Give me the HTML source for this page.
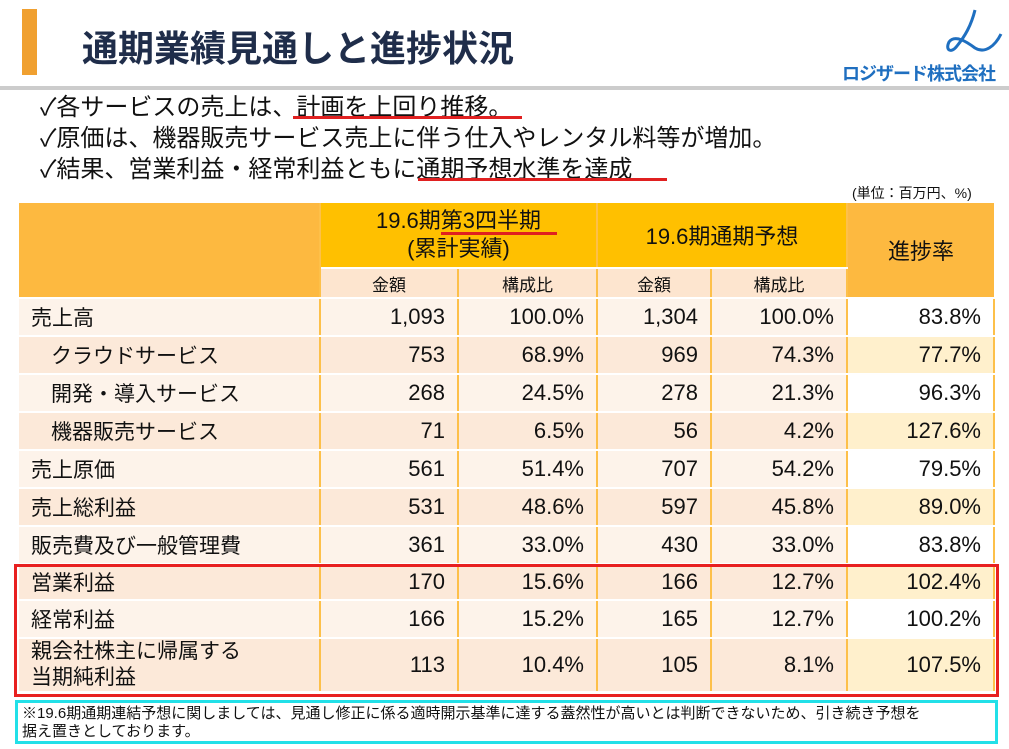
<!DOCTYPE html>
<html><head><meta charset="utf-8"><style>
body{margin:0;width:1009px;height:749px;background:#fff;position:relative;overflow:hidden;font-family:"Liberation Sans","Noto Sans CJK JP",sans-serif;color:#111}
.abs{position:absolute}
table{border-collapse:collapse;position:absolute;left:19px;top:203px;table-layout:fixed}
td{padding:0;font-size:22px;border-right:2px solid #FDC04A;border-bottom:2px solid #fff}
td.n{text-align:right;padding-right:12px}
td.l{padding-left:12px;font-size:21px}
.a td{background:#FDF3EA}
.b td{background:#FCE9D9}
.a td.w,.b td.w{background:#fff}
.a td.h,.b td.h{background:#FFF0CC}
</style></head><body>
<div class="abs" style="left:22px;top:9px;width:15px;height:66px;background:#F0A030"></div>
<div class="abs" style="left:82px;top:20px;font-size:36px;color:#1F2D4A;font-weight:bold;letter-spacing:0px">通期業績見通しと進捗状況</div>
<div class="abs" style="left:0;top:86px;width:1009px;height:4px;background:#ccc"></div>
<svg class="abs" style="left:935px;top:6px" width="70" height="52"><path d="M40 4 C36 20 30 30 22 40 C16 48 10 44 14 36 C20 28 32 36 40 42 C50 48 60 40 66 28" stroke="#1F6FC0" stroke-width="3" fill="none"/></svg>
<div class="abs" style="left:842px;top:60px;font-size:18px;color:#1F6FC0;font-weight:bold;letter-spacing:-1px">ロジザード株式会社</div>
<div class="abs" style="left:40px;top:92px;font-size:24px;line-height:31px">✓各サービスの売上は、計画を上回り推移。<br>✓原価は、機器販売サービス売上に伴う仕入やレンタル料等が増加。<br>✓結果、営業利益・経常利益ともに通期予想水準を達成</div>
<div class="abs" style="left:293px;top:116px;width:229px;height:3px;background:#E02020"></div>
<div class="abs" style="left:418px;top:178px;width:249px;height:3px;background:#E02020"></div>
<div class="abs" style="left:852px;top:183px;font-size:14px">(単位：百万円、%)</div>
<table>
<colgroup><col style="width:301px"><col style="width:138px"><col style="width:139px"><col style="width:114px"><col style="width:136px"><col style="width:147px"></colgroup>
<tr style="height:65px"><td rowspan="2" style="background:#FDB940"></td><td colspan="2" style="background:#FFC000;text-align:center;line-height:28px;font-size:22px">19.6期第3四半期<br>(累計実績)</td><td colspan="2" style="background:#FFC000;text-align:center;font-size:22px">19.6期通期予想</td><td rowspan="2" style="background:#FDB940;text-align:center;font-size:22px;border-right:none">進捗率</td></tr>
<tr style="height:30px"><td style="background:#FDE5CF;text-align:center;font-size:17px">金額</td><td style="background:#FDE5CF;text-align:center;font-size:17px">構成比</td><td style="background:#FDE5CF;text-align:center;font-size:17px">金額</td><td style="background:#FDE5CF;text-align:center;font-size:17px">構成比</td></tr>
<tr class="a" style="height:38px"><td class="l">売上高</td><td class="n">1,093</td><td class="n">100.0%</td><td class="n">1,304</td><td class="n">100.0%</td><td class="n w">83.8%</td></tr>
<tr class="b" style="height:38px"><td class="l" style="padding-left:32px">クラウドサービス</td><td class="n">753</td><td class="n">68.9%</td><td class="n">969</td><td class="n">74.3%</td><td class="n h">77.7%</td></tr>
<tr class="a" style="height:38px"><td class="l" style="padding-left:32px">開発・導入サービス</td><td class="n">268</td><td class="n">24.5%</td><td class="n">278</td><td class="n">21.3%</td><td class="n w">96.3%</td></tr>
<tr class="b" style="height:38px"><td class="l" style="padding-left:32px">機器販売サービス</td><td class="n">71</td><td class="n">6.5%</td><td class="n">56</td><td class="n">4.2%</td><td class="n h">127.6%</td></tr>
<tr class="a" style="height:38px"><td class="l">売上原価</td><td class="n">561</td><td class="n">51.4%</td><td class="n">707</td><td class="n">54.2%</td><td class="n w">79.5%</td></tr>
<tr class="b" style="height:38px"><td class="l">売上総利益</td><td class="n">531</td><td class="n">48.6%</td><td class="n">597</td><td class="n">45.8%</td><td class="n h">89.0%</td></tr>
<tr class="a" style="height:38px"><td class="l">販売費及び一般管理費</td><td class="n">361</td><td class="n">33.0%</td><td class="n">430</td><td class="n">33.0%</td><td class="n w">83.8%</td></tr>
<tr class="b" style="height:36px"><td class="l">営業利益</td><td class="n">170</td><td class="n">15.6%</td><td class="n">166</td><td class="n">12.7%</td><td class="n h">102.4%</td></tr>
<tr class="a" style="height:38px"><td class="l">経常利益</td><td class="n">166</td><td class="n">15.2%</td><td class="n">165</td><td class="n">12.7%</td><td class="n w">100.2%</td></tr>
<tr class="b" style="height:54px"><td class="l" style="line-height:26px">親会社株主に帰属する<br>当期純利益</td><td class="n">113</td><td class="n">10.4%</td><td class="n">105</td><td class="n">8.1%</td><td class="n h">107.5%</td></tr>
</table>
<div class="abs" style="left:441px;top:232px;width:116px;height:3px;background:#E02020"></div>
<div class="abs" style="left:14px;top:564px;width:979px;height:127px;border:3px solid #E82020"></div>
<div class="abs" style="left:15px;top:700px;width:973px;height:36px;border:3px solid #22E0E8;font-size:15px;line-height:18px;padding:2px 0 0 4px">※19.6期通期連結予想に関しましては、見通し修正に係る適時開示基準に達する蓋然性が高いとは判断できないため、引き続き予想を<br>据え置きとしております。</div>
</body></html>
